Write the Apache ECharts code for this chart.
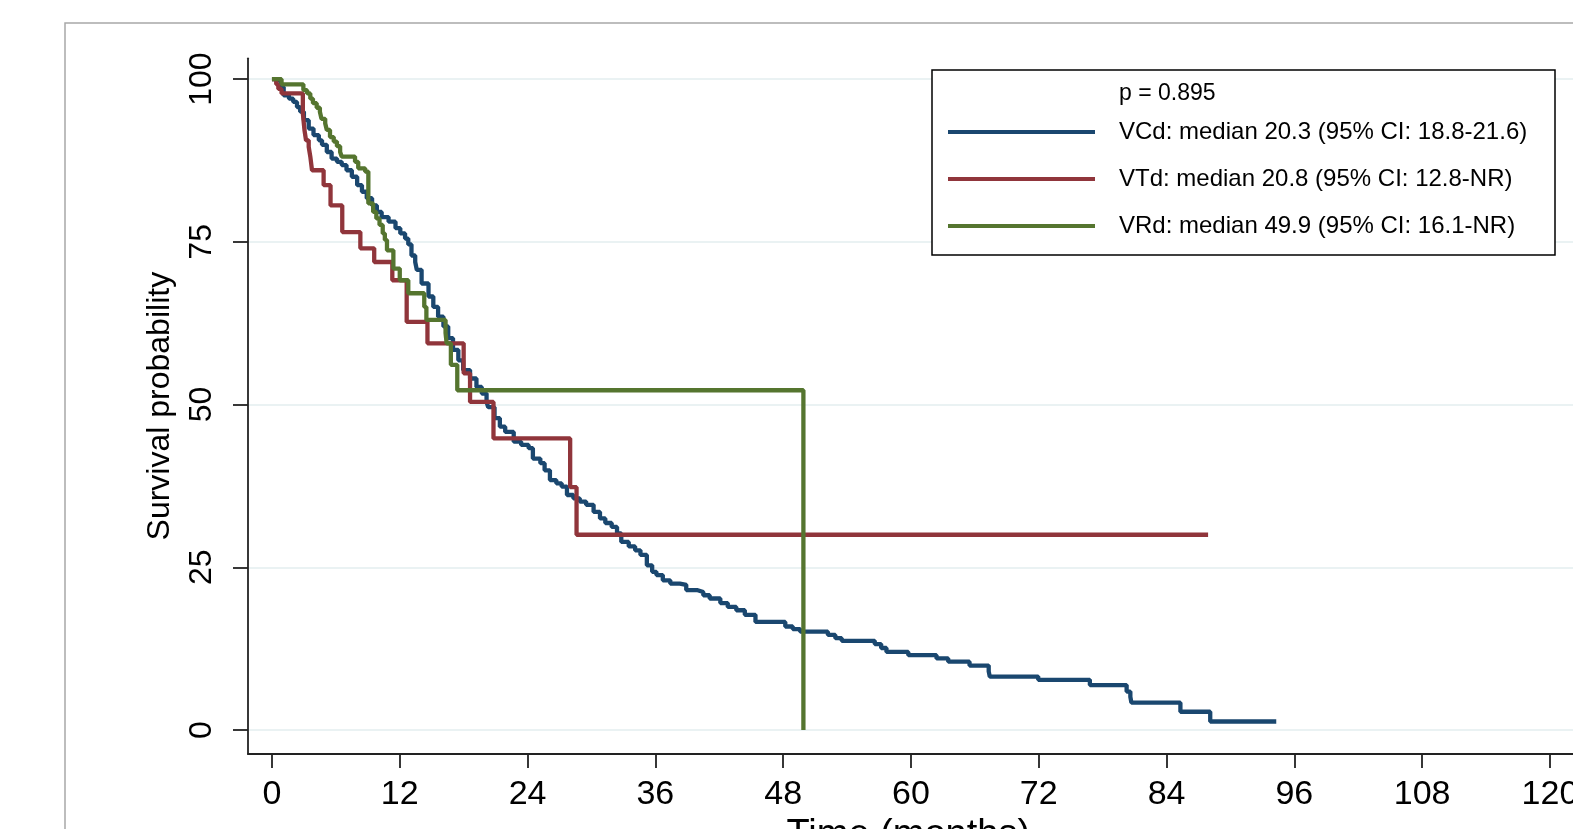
<!DOCTYPE html>
<html><head><meta charset="utf-8">
<script src="https://cdn.jsdelivr.net/npm/echarts@6/dist/echarts.min.js"></script>
<style>html,body{margin:0;padding:0;background:#fff;overflow:hidden}#c{width:1573px;height:829px}</style>
</head><body><div id="c"></div>
<script>
// ---- tick labels ----
const xTicks = [0, 12, 24, 36, 48, 60, 72, 84, 96, 108, 120];
const yTicks = [0, 25, 50, 75, 100];
const xTitle = 'Time (months)';
const yTitle = 'Survival probability';
const pText = 'p = 0.895';

// ---- series names ----
const seriesNames = [
  'VCd: median 20.3 (95% CI: 18.8-21.6)',
  'VTd: median 20.8 (95% CI: 12.8-NR)',
  'VRd: median 49.9 (95% CI: 16.1-NR)'
];
const seriesColors = ['#1a476f', '#90353b', '#55752f'];

// ---- Kaplan-Meier steps: time (months) and survival (%) after each step ----
const vcdTime = [0,0.3,0.8,1.1,1.6,2.0,2.35,2.65,3.0,3.45,3.9,4.4,4.7,5.15,5.6,6.1,6.55,7.0,7.5,8.0,8.45,8.9,9.4,9.85,10.3,10.95,11.6,12.05,12.5,12.8,13.1,13.45,13.6,14.05,14.7,15.15,15.6,16.1,16.55,17.0,17.5,17.95,18.6,19.2,19.7,20.15,20.3,20.9,21.4,21.9,22.7,23.4,24.1,24.5,25.2,25.6,26.1,26.7,27.2,27.7,28.3,28.9,29.5,30.2,30.8,31.3,31.9,32.4,32.8,33.5,34.1,34.6,35.2,35.7,36.1,36.7,37.4,38.3,38.9,39.9,40.5,41.1,42.1,42.8,43.6,44.4,45.4,48.2,48.9,49.6,52.2,52.9,53.5,56.6,57.2,57.7,59.75,62.4,63.5,65.5,67.3,67.4,71.95,76.8,80.25,80.6,80.7,85.3,88.1,94.3];
const vcdSurv = [100,99.8,98.8,97.5,97.0,96.5,95.7,95.0,93.7,92.4,91.4,90.6,89.9,88.8,87.8,87.3,86.8,86.0,85.0,83.7,82.7,81.7,80.6,79.6,78.8,78.1,77.1,76.3,75.5,74.6,72.9,71.9,70.7,68.6,66.6,65.0,63.5,62.0,60.2,58.4,56.8,55.3,54.0,52.7,51.7,50.4,49.6,47.9,46.6,45.8,44.3,43.8,43.3,41.7,41.0,39.9,38.4,37.9,37.4,36.1,35.6,35.1,34.6,33.5,32.5,31.8,31.2,30.2,28.9,28.2,27.6,26.9,25.3,24.3,23.8,23.0,22.5,22.3,21.5,21.2,20.7,20.2,19.5,18.9,18.4,17.7,16.6,15.9,15.5,15.1,14.6,14.1,13.7,13.2,12.6,12.0,11.5,11.0,10.5,9.9,9.0,8.2,7.7,6.9,5.9,5.1,4.2,2.8,1.3,1.3];

const vtdTime = [0,0.4,0.6,0.9,2.9,3.05,3.2,3.45,3.6,3.76,4.85,5.5,6.6,8.3,9.6,11.3,12.65,14.6,18.0,18.6,20.8,28.0,28.6,87.9];
const vtdSurv = [100,99.2,98.5,97.8,94.7,92.2,90.6,89.6,88.1,86.0,83.7,80.6,76.5,74.0,71.9,69.1,62.7,59.4,54.8,50.4,44.8,37.3,30.0,30.0];

const vrdTime = [0,0.9,2.95,3.3,3.6,3.85,4.2,4.5,4.65,5.0,5.15,5.45,5.8,6.1,6.4,6.55,7.8,8.1,8.75,9.05,9.5,9.8,10.1,10.4,10.6,10.8,11.4,12.0,12.8,14.3,14.5,16.3,16.4,16.8,17.4,49.9];
const vrdSurv = [100,99.2,98.3,97.8,97.0,96.3,95.6,95.0,93.9,93.2,92.2,91.1,90.4,89.7,88.8,88.1,87.3,86.3,85.8,80.9,79.6,78.6,77.6,76.3,75.3,73.7,70.9,69.1,67.1,65.0,63.0,61.0,59.4,56.1,52.2,0];

const zip = (t, s) => t.map((v, i) => [v, s[i]]);
const allData = [zip(vcdTime, vcdSurv), zip(vtdTime, vtdSurv), zip(vrdTime, vrdSurv)];

const FONT = '"Liberation Sans", Arial, Helvetica, sans-serif';
const chart = echarts.init(document.getElementById('c'), null, {renderer: 'canvas'});

// legend drawn as graphic
const legendX = 932, legendY = 70, legendW = 623, legendH = 185;
const rowY = [132, 179, 226];
const legendGraphics = [
  {type: 'rect', shape: {x: legendX, y: legendY, width: legendW, height: legendH},
   style: {fill: '#fff', stroke: '#000', lineWidth: 1.5}, z: 100},
  {type: 'text', x: 1119, y: 94, style: {text: pText, font: '23px ' + FONT, fill: '#000', verticalAlign: 'middle', align: 'left'}, z: 101}
];
seriesNames.forEach((n, i) => {
  legendGraphics.push({type: 'line', shape: {x1: 948, y1: rowY[i], x2: 1095, y2: rowY[i]},
    style: {stroke: seriesColors[i], lineWidth: 4}, z: 101});
  legendGraphics.push({type: 'text', x: 1119, y: rowY[i],
    style: {text: n, font: '24px ' + FONT, fill: '#000', verticalAlign: 'middle', align: 'left'}, z: 101});
});

const xMin = -2.25, xMax = 124;
const yMin = -3.69, yMax = 103.2;

chart.setOption({
  animation: false,
  backgroundColor: '#fff',
  textStyle: {fontFamily: FONT},
  graphic: [
    {type: 'rect', shape: {x: 65, y: 23, width: 2000, height: 2000},
     style: {fill: 'none', stroke: '#a8a8a8', lineWidth: 1.5}, z: -10, silent: true}
  ].concat(legendGraphics),
  grid: {left: 248, top: 58.3, width: (xMax - xMin) * 10.65, height: 695.7,
         containLabel: false, outerBoundsMode: 'none'},
  xAxis: {
    type: 'value', min: xMin, max: xMax,
    name: xTitle, nameLocation: 'middle', nameGap: 39,
    nameTextStyle: {fontSize: 38, color: '#000', fontFamily: FONT, padding: [0, 24, 0, 0]},
    axisLine: {show: true, onZero: false, lineStyle: {color: '#222', width: 1.8}},
    axisTick: {show: true, customValues: xTicks, length: 14, lineStyle: {color: '#222', width: 1.8}},
    axisLabel: {customValues: xTicks, fontSize: 34, color: '#000', margin: 24, fontFamily: FONT},
    splitLine: {show: false}
  },
  yAxis: {
    type: 'value', min: yMin, max: yMax,
    name: yTitle, nameLocation: 'middle', nameGap: 72, nameRotate: 90,
    nameTextStyle: {fontSize: 32, color: '#000', fontFamily: FONT},
    axisLine: {show: true, onZero: false, lineStyle: {color: '#222', width: 1.8}},
    axisTick: {show: true, customValues: yTicks, length: 15, lineStyle: {color: '#222', width: 1.8}},
    axisLabel: {customValues: yTicks, fontSize: 32, color: '#000', rotate: 90, margin: 30, fontFamily: FONT},
    splitLine: {show: true, lineStyle: {color: '#eaf2f3', width: 2}}
  },
  series: allData.map((d, i) => ({
    type: 'line', name: seriesNames[i], data: d, step: 'end',
    showSymbol: false, symbol: 'none', silent: true,
    lineStyle: {color: seriesColors[i], width: 4.3},
    itemStyle: {color: seriesColors[i]},
    z: 2 + i
  }))
});
</script>
</body></html>
